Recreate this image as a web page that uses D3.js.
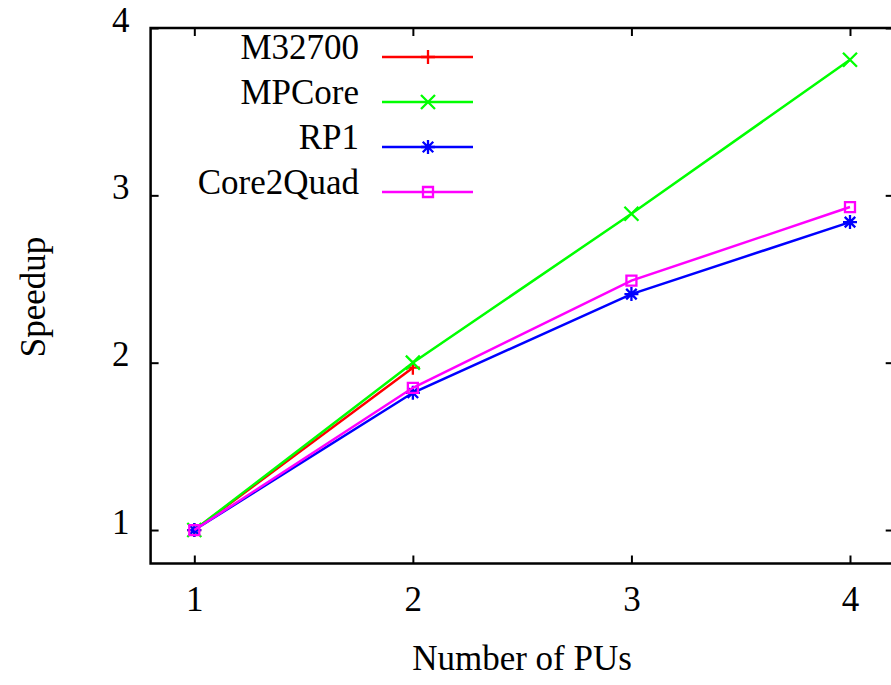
<!DOCTYPE html>
<html>
<head>
<meta charset="utf-8">
<script src="https://cdn.jsdelivr.net/npm/d3@7"></script>
<style>
  body { margin: 0; background: #fff; }
  svg text { font-family: "Liberation Serif", "Times New Roman", serif; font-size: 35px; fill: #000; }
</style>
</head>
<body>
<div id="canvas"></div>
<script>
// values
var pus = [1, 2, 3, 4];
var names = ["M32700", "MPCore", "RP1", "Core2Quad"];
var colors = ["#ff0000", "#00ff00", "#0000ff", "#ff00ff"];
var symbols = ["plus", "cross", "star", "square"];
var m32700 = [1.0, 1.97];
var mpcore = [1.0, 2.0, 2.89, 3.81];
var rp1 = [1.0, 1.82, 2.41, 2.84];
var core2quad = [1.0, 1.85, 2.49, 2.93];
var xTicks = [1, 2, 3, 4];
var yTicks = [1, 2, 3, 4];

var width = 891, height = 685;
var pLeft = 150.6, pRight = 893.7, pTop = 28, pBottom = 563.5;
var tick = 8;
var fontsize = 35;

var series = [m32700, mpcore, rp1, core2quad];

var x = d3.scaleLinear().domain([0.8, 4.2]).range([pLeft, pRight]);
var y = d3.scaleLinear().domain([0.8, 4]).range([pBottom, pTop]);

var svg = d3.select("#canvas").append("svg")
    .attr("width", width)
    .attr("height", height);

// ticks (inward), labels only on left/bottom
var gx = svg.append("g")
    .attr("transform", "translate(0," + pBottom + ")")
    .call(d3.axisBottom(x).tickValues(xTicks).tickFormat(d3.format("d"))
        .tickSizeInner(-tick).tickSizeOuter(0).tickPadding(23));
var gy = svg.append("g")
    .attr("transform", "translate(" + pLeft + ",0)")
    .call(d3.axisLeft(y).tickValues(yTicks).tickFormat(d3.format("d"))
        .tickSizeInner(-tick).tickSizeOuter(0).tickPadding(21));
var gt = svg.append("g")
    .attr("transform", "translate(0," + pTop + ")")
    .call(d3.axisTop(x).tickValues(xTicks).tickFormat("")
        .tickSizeInner(-tick).tickSizeOuter(0));
var gr = svg.append("g")
    .attr("transform", "translate(" + pRight + ",0)")
    .call(d3.axisRight(y).tickValues(yTicks).tickFormat("")
        .tickSizeInner(-tick).tickSizeOuter(0));

[gx, gy, gt, gr].forEach(function(g) {
    g.select(".domain").remove();
    g.selectAll(".tick line").attr("stroke", "#000").attr("stroke-width", 2);
    g.selectAll(".tick text")
        .style("font-family", "'Liberation Serif', 'Times New Roman', serif")
        .style("font-size", fontsize + "px")
        .attr("fill", "#000");
});
gy.selectAll(".tick text").attr("dy", "3px");

// frame
svg.append("rect")
    .attr("x", pLeft).attr("y", pTop)
    .attr("width", pRight - pLeft).attr("height", pBottom - pTop)
    .attr("fill", "none").attr("stroke", "#000").attr("stroke-width", 2.5);

// axis titles
svg.append("text")
    .attr("transform", "translate(45,297) rotate(-90)")
    .attr("text-anchor", "middle")
    .text("Speedup");
svg.append("text")
    .attr("x", 522).attr("y", 670)
    .attr("text-anchor", "middle")
    .text("Number of PUs");

function drawMarker(g, kind, cx, cy, color) {
    var s = 7;
    var p = g.append("path").attr("fill", "none").attr("stroke", color).attr("stroke-width", 2.3);
    if (kind == "plus") {
        p.attr("d", "M" + (cx - s) + "," + cy + "H" + (cx + s) + "M" + cx + "," + (cy - s) + "V" + (cy + s));
    } else if (kind == "cross") {
        p.attr("d", "M" + (cx - s) + "," + (cy - s) + "L" + (cx + s) + "," + (cy + s) +
            "M" + (cx - s) + "," + (cy + s) + "L" + (cx + s) + "," + (cy - s));
    } else if (kind == "star") {
        p.attr("d", "M" + (cx - s) + "," + cy + "H" + (cx + s) + "M" + cx + "," + (cy - s) + "V" + (cy + s) +
            "M" + (cx - s * 0.75) + "," + (cy - s * 0.75) + "L" + (cx + s * 0.75) + "," + (cy + s * 0.75) +
            "M" + (cx - s * 0.75) + "," + (cy + s * 0.75) + "L" + (cx + s * 0.75) + "," + (cy - s * 0.75));
    } else {
        p.attr("d", "M" + (cx - 5) + "," + (cy - 5) + "h10v10h-10z");
    }
}

var line = d3.line()
    .x(function(d, i) { return x(pus[i]); })
    .y(function(d) { return y(d); });

series.forEach(function(vals, k) {
    var g = svg.append("g");
    g.append("path")
        .datum(vals)
        .attr("d", line)
        .attr("fill", "none")
        .attr("stroke", colors[k])
        .attr("stroke-width", 2.5);
    vals.forEach(function(v, i) {
        drawMarker(g, symbols[k], x(pus[i]), y(v), colors[k]);
    });
});

// legend
var legY = [57, 102, 147, 192];
names.forEach(function(n, k) {
    var g = svg.append("g");
    g.append("text")
        .attr("x", 359).attr("y", legY[k] + 2)
        .attr("text-anchor", "end")
        .text(n);
    g.append("line")
        .attr("x1", 382).attr("x2", 473)
        .attr("y1", legY[k]).attr("y2", legY[k])
        .attr("stroke", colors[k]).attr("stroke-width", 2.5);
    drawMarker(g, symbols[k], 428, legY[k], colors[k]);
});
</script>
</body>
</html>
